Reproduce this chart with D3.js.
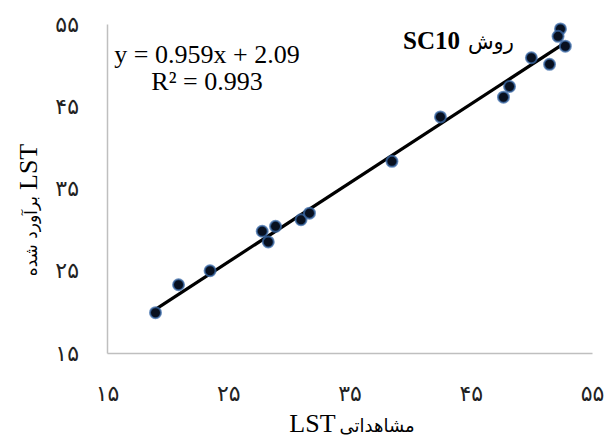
<!DOCTYPE html>
<html>
  <head>
    <meta charset="utf-8" />
    <title>SC10 scatter</title>
    <script src="https://d3js.org/d3.v7.min.js"></script>
    <style type="text/css">
      body { margin: 0; background: #fff; }
      .tick text { font-family: "DejaVu Sans", sans-serif; font-size: 22px; fill: #222; }
      .domain { stroke: #bfbfbf; stroke-width: 1.5px; }
    </style>
  </head>
  <body>
    <div id="chart"></div>
    <script type="text/javascript">
      var observed  = [19.0, 20.9, 23.5, 27.8, 28.3, 28.9, 31.0, 31.7, 38.5, 42.5, 47.7, 48.2, 50.0, 51.5, 52.4, 52.2, 52.8];
      var estimated = [19.9, 23.3, 25.0, 29.8, 28.5, 30.4, 31.2, 32.0, 38.3, 43.7, 46.1, 47.4, 50.9, 50.1, 54.4, 53.5, 52.3];
      var tickVals = [15, 25, 35, 45, 55];
      var slope = 0.959, intercept = 2.09;
      var eqText = "y = 0.959x + 2.09";
      var r2Text = "R² = 0.993";

      var width = 608, height = 441;
      var faDigits = "۰۱۲۳۴۵۶۷۸۹";
      function toFa(n) {
        return String(n).replace(/[0-9]/g, function(c) { return faDigits[+c]; });
      }

      var x = d3.scaleLinear().domain([15, 55]).range([107, 592]);
      var y = d3.scaleLinear().domain([15, 55]).range([353, 24]);

      var svg = d3.select("#chart").append("svg")
          .attr("width", width)
          .attr("height", height);

      svg.append("g")
          .attr("transform", "translate(0," + y(15) + ")")
          .call(d3.axisBottom(x).tickValues(tickVals).tickSize(0).tickPadding(32).tickFormat(toFa));

      svg.append("g")
          .attr("transform", "translate(" + x(15) + ",0)")
          .call(d3.axisLeft(y).tickValues(tickVals).tickSize(0).tickPadding(28).tickFormat(toFa));

      // trendline over the data range
      var xr = d3.extent(observed);
      svg.append("line")
          .attr("x1", x(xr[0])).attr("y1", y(slope * xr[0] + intercept))
          .attr("x2", x(xr[1])).attr("y2", y(slope * xr[1] + intercept))
          .attr("stroke", "#000")
          .attr("stroke-width", 3.2);

      var pts = observed.map(function(v, i) { return [v, estimated[i]]; });
      svg.selectAll("circle.pt")
          .data(pts)
          .enter()
          .append("circle")
          .attr("class", "pt")
          .attr("cx", function(d) { return x(d[0]); })
          .attr("cy", function(d) { return y(d[1]); })
          .attr("r", 5.5)
          .attr("fill", "#08101f")
          .attr("stroke", "#3a6aa8")
          .attr("stroke-opacity", 0.75)
          .attr("stroke-width", 2);

      svg.append("text")
          .attr("x", 207).attr("y", 63)
          .attr("text-anchor", "middle")
          .style("font-family", "'Liberation Serif', serif")
          .style("font-size", "26px")
          .text(eqText);
      svg.append("text")
          .attr("x", 207).attr("y", 90)
          .attr("text-anchor", "middle")
          .style("font-family", "'Liberation Serif', serif")
          .style("font-size", "26px")
          .text(r2Text);

      var title = svg.append("text")
          .attr("x", 403).attr("y", 49);
      title.append("tspan")
          .style("font-family", "'Liberation Serif', serif")
          .style("font-weight", "bold")
          .style("font-size", "25px")
          .text("SC10");
      title.append("tspan")
          .attr("dx", 8)
          .style("font-family", "'DejaVu Sans', sans-serif")
          .style("font-size", "21px")
          .text("روش");

      // axis titles
      var xt = svg.append("text")
          .attr("x", 352).attr("y", 432)
          .attr("text-anchor", "middle");
      xt.append("tspan")
          .style("font-family", "'Liberation Serif', serif")
          .style("font-size", "26px")
          .text("LST");
      xt.append("tspan")
          .attr("dx", 4)
          .style("font-family", "'DejaVu Sans', sans-serif")
          .style("font-size", "18px")
          .text("مشاهداتی");

      var yt = svg.append("text")
          .attr("transform", "translate(37,210) rotate(-90)")
          .attr("text-anchor", "middle");
      yt.append("tspan")
          .style("font-family", "'DejaVu Sans', sans-serif")
          .style("font-size", "17px")
          .text("برآورد شده");
      yt.append("tspan")
          .attr("dx", 6)
          .style("font-family", "'Liberation Serif', serif")
          .style("font-size", "26px")
          .text("LST");
    </script>
  </body>
</html>
